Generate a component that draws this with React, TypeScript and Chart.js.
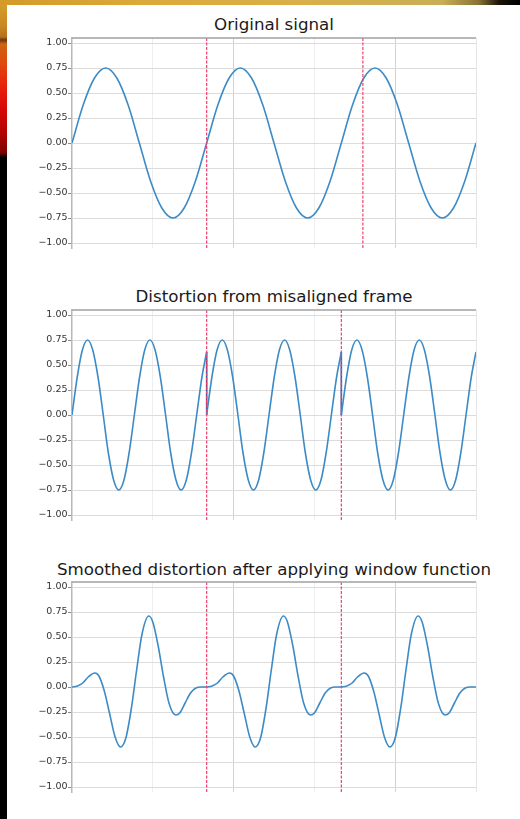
import React, { useEffect, useRef } from "react";
import { Chart, registerables } from "chart.js";

Chart.register(...registerables);

const FONT = "'DejaVu Sans', 'Noto Sans', sans-serif";

// ---- axes ----
const xGridTicks = [0, 60, 120, 180, 240, 300];
const yTickValues = [-1, -0.75, -0.5, -0.25, 0, 0.25, 0.5, 0.75, 1];
const yTickLabels = ["−1.00", "−0.75", "−0.50", "−0.25", "0.00", "0.25", "0.50", "0.75", "1.00"];
const yLimits = [-1.05, 1.05];

const titles = [
  "Original signal",
  "Distortion from misaligned frame",
  "Smoothed distortion after applying window function",
];

// ---- plot 1: original signal ----
const originalX = [
  0, 8.3, 16.7, 25, 33.3, 41.7, 50, 58.3, 66.7, 75, 83.3, 91.7,
  100, 108.3, 116.7, 125, 133.3, 141.7, 150, 158.3, 166.7, 175, 183.3, 191.7,
  200, 208.3, 216.7, 225, 233.3, 241.7, 250, 258.3, 266.7, 275, 283.3, 291.7, 300,
];
const originalY = [
  0, 0.38, 0.65, 0.75, 0.65, 0.38, 0, -0.38, -0.65, -0.75, -0.65, -0.38,
  0, 0.38, 0.65, 0.75, 0.65, 0.38, 0, -0.38, -0.65, -0.75, -0.65, -0.38,
  0, 0.38, 0.65, 0.75, 0.65, 0.38, 0, -0.38, -0.65, -0.75, -0.65, -0.38, 0,
];
const originalMarkers = [100, 216];

// ---- plot 2: one misaligned frame (repeated at each frame start) ----
const frameStarts = [0, 100, 200];
const distortionFrameX = [
  0, 3.9, 7.7, 11.6, 15.4, 19.3, 23.2, 27.0, 30.9, 34.7, 38.6, 42.4, 46.3,
  50.2, 54.0, 57.9, 61.7, 65.6, 69.5, 73.3, 77.2, 81.0, 84.9, 88.7, 92.6, 96.5, 100,
];
const distortionFrameY = [
  0, 0.38, 0.65, 0.75, 0.65, 0.38, 0, -0.38, -0.65, -0.75, -0.65, -0.38, 0,
  0.38, 0.65, 0.75, 0.65, 0.38, 0, -0.38, -0.65, -0.75, -0.65, -0.38, 0, 0.38, 0.63,
];
const frameMarkers = [100, 200];

// ---- plot 3: windowed frame ----
const smoothedFrameX = [
  0, 4, 8, 12, 17, 20, 24, 28, 32, 36, 40, 44, 48, 52, 57, 60, 64, 68, 72, 77, 80, 84, 88, 92, 96, 100,
];
const smoothedFrameY = [
  0, 0.01, 0.04, 0.1, 0.14, 0.11, -0.04, -0.27, -0.5, -0.6, -0.51, -0.22, 0.17, 0.53, 0.71, 0.65,
  0.41, 0.1, -0.16, -0.28, -0.26, -0.16, -0.06, -0.01, 0, 0,
];

const LINE_COLOR = "#3d8bc6";
const MARKER_COLOR = "#f0406e";

const topBorderPlugin = {
  id: "topBorder",
  afterDraw(chart: any) {
    const { ctx, chartArea: a } = chart;
    ctx.save();
    ctx.setLineDash([]);
    ctx.strokeStyle = "#a0a0a0";
    ctx.lineWidth = 1.5;
    ctx.beginPath();
    ctx.moveTo(a.left, a.top);
    ctx.lineTo(a.right, a.top);
    ctx.stroke();
    ctx.restore();
  },
};

function markerDatasets(markers: number[]) {
  return markers.map((m) => ({
    data: [
      { x: m, y: yLimits[0] },
      { x: m, y: yLimits[1] },
    ],
    borderColor: MARKER_COLOR,
    borderWidth: 1.2,
    borderDash: [3, 1.5],
    tension: 0,
    cubicInterpolationMode: "default",
    order: -1,
  }));
}

function SignalChart({ top, datasets, markers }: { top: number; datasets: any[]; markers: number[] }) {
  const ref = useRef<HTMLCanvasElement>(null);
  useEffect(() => {
    const config: any = {
      type: "line",
      data: { datasets: [...datasets, ...markerDatasets(markers)] },
      options: {
        responsive: false,
        animation: false,
        events: [],
        layout: { padding: { top: 12, bottom: 12, left: 0, right: 44 } },
        elements: {
          point: { radius: 0 },
          line: { borderWidth: 1.6, cubicInterpolationMode: "monotone", borderColor: LINE_COLOR },
        },
        plugins: {
          legend: { display: false },
          tooltip: { enabled: false },
          title: { display: false },
        },
        scales: {
          x: {
            type: "linear",
            min: 0,
            max: 300,
            afterBuildTicks: (s: any) => {
              s.ticks = xGridTicks.map((v) => ({ value: v }));
            },
            afterFit: (s: any) => {
              s.height = 0;
            },
            ticks: { display: false },
            border: { display: false },
            grid: {
              drawTicks: false,
              lineWidth: 1,
              color: (c: any) => {
                const v = c.tick ? c.tick.value : -1;
                if (v === 0) return "rgba(0,0,0,0)";
                if (v === 120 || v === 240) return "#d2d2d2";
                if (v === 300) return "#e6e6e6";
                return "#eeeeee";
              },
            },
          },
          y: {
            type: "linear",
            min: yLimits[0],
            max: yLimits[1],
            afterBuildTicks: (s: any) => {
              s.ticks = yTickValues.map((v) => ({ value: v }));
            },
            afterFit: (s: any) => {
              s.width = 72;
            },
            ticks: {
              callback: (v: any) => yTickLabels[yTickValues.indexOf(Number(v))],
              color: "#333333",
              font: { family: FONT, size: 9.5 },
              padding: 0.5,
            },
            grid: { color: "#dcdcdc", tickColor: "#8a8a8a", tickLength: 4, lineWidth: 1 },
            border: { color: "#b8b8b8", width: 1.5 },
          },
        },
      },
      plugins: [topBorderPlugin],
    };
    const chart = new Chart(ref.current as HTMLCanvasElement, config);
    return () => chart.destroy();
  }, []);
  return (
    <canvas
      ref={ref}
      width={520}
      height={234}
      style={{ position: "absolute", left: 0, top: top - 12, width: 520, height: 234 }}
    />
  );
}

function framesDatasets(fx: number[], fy: number[], withJumps: boolean) {
  const ds: any[] = frameStarts.map((f) => ({
    data: fx.map((x, i) => ({ x: f + x, y: fy[i] })),
    borderColor: LINE_COLOR,
    borderWidth: 1.6,
    fill: false,
  }));
  if (withJumps) {
    const pts: any[] = [];
    frameStarts.slice(1).forEach((f, k) => {
      if (k > 0) pts.push({ x: f, y: null });
      pts.push({ x: f, y: fy[fy.length - 1] });
      pts.push({ x: f, y: fy[0] });
    });
    ds.push({ data: pts, borderColor: "#2f5f9c", borderWidth: 1.6, tension: 0, cubicInterpolationMode: "default", spanGaps: false });
  }
  return ds;
}

const titleStyle = (top: number): React.CSSProperties => ({
  position: "absolute",
  left: 274,
  top,
  transform: "translateX(-50%)",
  whiteSpace: "nowrap",
  fontFamily: FONT,
  fontSize: 16.7,
  lineHeight: "17px",
  color: "#1a1a1a",
});

export default function App() {
  const originalDatasets = [
    {
      data: originalX.map((x, i) => ({ x, y: originalY[i] })),
      borderColor: LINE_COLOR,
      borderWidth: 1.6,
      fill: false,
    },
  ];
  return (
    <div
      style={{
        position: "absolute",
        left: 0,
        top: 0,
        width: 520,
        height: 819,
        background: "#ffffff",
        overflow: "hidden",
      }}
    >
      <div
        style={{
          position: "absolute",
          left: 0,
          top: 0,
          width: 7,
          height: 819,
          background:
            "linear-gradient(to bottom, #d9a22a 0px, #c98a22 25px, #b8701c 37px, #6a3410 40px, #cc6412 44px, #df4a0e 62px, #e8240a 85px, #d60808 110px, #ae0303 135px, #7c0000 153px, #000000 157px, #000000 100%)",
        }}
      />
      <div
        style={{
          position: "absolute",
          left: 0,
          top: 0,
          width: 520,
          height: 5,
          background:
            "linear-gradient(to right, #d49a2a 0%, #dcaa3c 30%, #d8b04a 60%, #c9ae56 85%, #8a7234 92%, #1a1408 96%, #000000 100%)",
        }}
      />
      <div style={titleStyle(16)}>{titles[0]}</div>
      <div style={titleStyle(288)}>{titles[1]}</div>
      <div style={titleStyle(561)}>{titles[2]}</div>
      <SignalChart top={38} datasets={originalDatasets} markers={originalMarkers} />
      <SignalChart top={310} datasets={framesDatasets(distortionFrameX, distortionFrameY, true)} markers={frameMarkers} />
      <SignalChart top={582} datasets={framesDatasets(smoothedFrameX, smoothedFrameY, false)} markers={frameMarkers} />
    </div>
  );
}
